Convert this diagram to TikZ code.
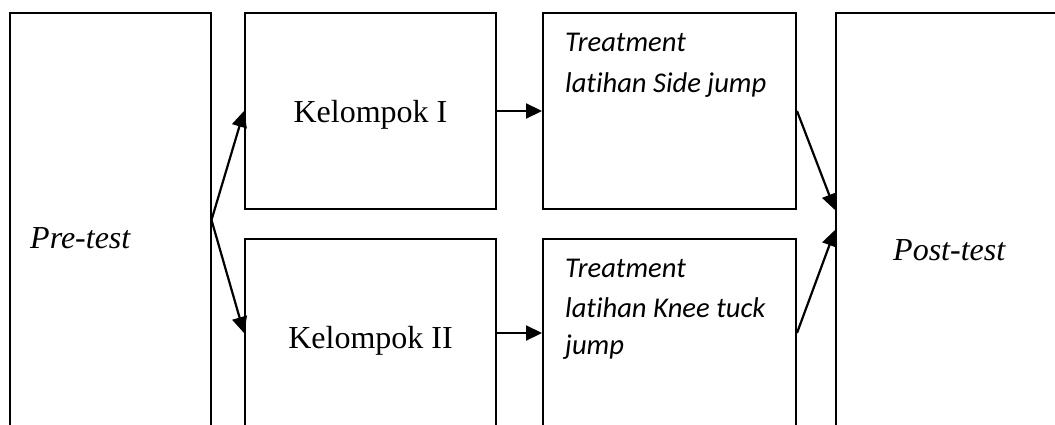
\documentclass[tikz,border=0pt]{standalone}
\usepackage{fontspec}
\setmainfont{Liberation Serif}
\newfontfamily\calib[Ligatures=NoCommon]{Carlito}
\usetikzlibrary{arrows.meta}
\begin{document}
\begin{tikzpicture}[x=1pt,y=-1pt,
  box/.style={draw, line width=2pt, inner sep=0pt, rectangle},
  conn/.style={line width=2.2pt, -{Triangle[length=16pt,width=15pt]}},
  tnr/.style={inner sep=0pt, font=\fontsize{32}{38}\selectfont},
  cal/.style={inner sep=0pt, anchor=base west, font=\calib\itshape\fontsize{28.6}{34}\selectfont}]
\clip (0,0) rectangle (1055,425);
\useasboundingbox (0,0) rectangle (1055,425);
% boxes
\node[box, minimum width=200.5pt, minimum height=414pt] (pre) at (110.25,220) {};
\node[box, minimum width=251pt, minimum height=196pt] (k1) at (370.5,111) {};
\node[box, minimum width=251pt, minimum height=188pt] (k2) at (370.5,333) {};
\node[box, minimum width=253pt, minimum height=196pt] (t1) at (669.5,111) {};
\node[box, minimum width=253pt, minimum height=188pt] (t2) at (669.5,333) {};
\node[box, minimum width=234pt, minimum height=414pt] (post) at (953,220) {};
% texts
\node[tnr, anchor=base west, font=\itshape\fontsize{32}{38}\selectfont] (pretxt) at (30,248) {Pre-test};
\node[tnr, anchor=base west, font=\itshape\fontsize{32}{38}\selectfont] (posttxt) at (893,260) {Post-test};
\node[tnr, anchor=base] (k1txt) at (370.5,123) {Kelompok I};
\node[tnr, anchor=base] (k2txt) at (370.5,348) {Kelompok II};
\node[cal] (t1a) at (565,52) {Treatment};
\node[cal] (t1b) at (565,93) {latihan Side jump};
\node[cal] (t2a) at (565,277) {Treatment};
\node[cal] (t2b) at (565,317) {latihan Knee tuck};
\node[cal] (t2c) at (565,354) {jump};
% connectors
\draw[conn] (pre.east) -- (k1.west);
\draw[conn] (pre.east) -- (k2.west);
\draw[conn] (k1.east) -- (t1.west);
\draw[conn] (k2.east) -- (t2.west);
\draw[conn] (t1.east) -- ([yshift=10pt]post.west);
\draw[conn] (t2.east) -- ([yshift=-10pt]post.west);
\end{tikzpicture}
\end{document}
